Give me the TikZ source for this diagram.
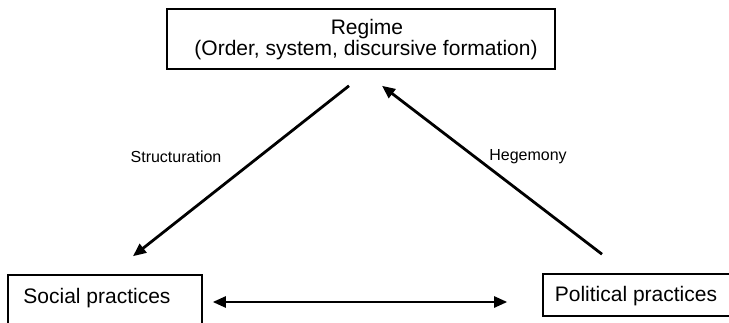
\documentclass[tikz,border=0pt]{standalone}
\usepackage{fontspec}
\setmainfont{Liberation Sans}
\usetikzlibrary{arrows.meta}
\begin{document}
\begin{tikzpicture}[x=1pt,y=-1pt,
  box/.style={draw=black, line width=1.6pt, inner sep=0pt},
  lbl/.style={inner sep=0pt, anchor=base, font=\fontsize{21}{21}\selectfont},
  edgelbl/.style={inner sep=0pt, font=\fontsize{16}{19}\selectfont},
  arr/.style={line width=2.8pt, -{Triangle[length=13pt,width=11pt]}},
  darr/.style={line width=2.4pt, {Triangle[length=13pt,width=11pt]}-{Triangle[length=13pt,width=11pt]}}]
\useasboundingbox (0,0) rectangle (729,322);
\begin{scope}
\clip (0,0) rectangle (729,322);
\node[box, minimum width=388pt, minimum height=60pt] (regime) at (361,39) {};
\node[lbl] (regimetxt) at (367,34) {Regime};
\node[lbl] (ordertxt) at (366,55) {(Order, system, discursive formation)};
\node[box, minimum width=194pt, minimum height=64pt] (social) at (105,307) {};
\node[lbl] (socialtxt) at (97,303) {Social practices};
\node[box, minimum width=217pt, minimum height=42pt] (political) at (651.5,295) {};
\node[lbl] (poltxt) at (636,301) {Political practices};
\end{scope}
\draw[arr] ([xshift=-12pt,yshift=-16pt]regime.south) -- ([xshift=28pt,yshift=18pt]social.north);
\draw[arr] ([xshift=-49.5pt,yshift=19pt]political.north) -- ([xshift=21pt,yshift=-16pt]regime.south);
\draw[darr] ([xshift=10pt,yshift=5pt]social.east) -- ([xshift=-35pt,yshift=-7pt]political.west);
\node[edgelbl] (struct) at (176,157) {Structuration};
\node[edgelbl] (hegem) at (528,157) {Hegemony};
\end{tikzpicture}
\end{document}
